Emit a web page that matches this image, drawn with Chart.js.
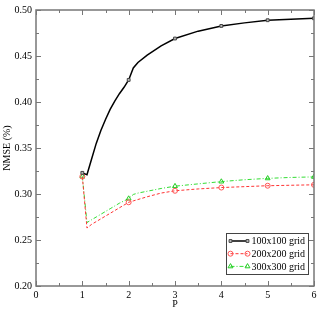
<!DOCTYPE html>
<html><head><meta charset="utf-8">
<script src="https://cdn.jsdelivr.net/npm/chart.js@4"></script>
<style>html,body{margin:0;padding:0;background:#fff;}#c{display:block;}</style>
</head><body>
<canvas id="c" width="320" height="310"></canvas>
<script>
const pValues = [1,1.1,1.2,1.3,1.4,1.5,1.6,1.7,1.8,1.9,2,2.1,2.2,2.4,2.7,3,3.5,4,4.5,5,5.5,6];
const grid100 = [0.323,0.321,0.338,0.355,0.369,0.381,0.392,0.401,0.409,0.416,0.424,0.437,0.443,0.451,0.461,0.469,0.477,0.4827,0.486,0.4889,0.490,0.491];
const grid200 = [0.319,0.263,0.267,0.270,0.273,0.276,0.279,0.282,0.285,0.288,0.291,0.2925,0.294,0.297,0.301,0.3035,0.3055,0.307,0.308,0.309,0.3095,0.310];
const grid300 = [0.319,0.269,0.272,0.275,0.278,0.281,0.284,0.287,0.290,0.2925,0.295,0.2995,0.301,0.303,0.306,0.3085,0.311,0.3135,0.3155,0.317,0.318,0.3186];
const seriesLabels = ['100x100 grid','200x200 grid','300x300 grid'];
const xTicks = [0,1,2,3,4,5,6];
const yTicks = [0.20,0.25,0.30,0.35,0.40,0.45,0.50];

const FONT = "'Liberation Serif','DejaVu Serif',serif";
const toPts = arr => pValues.map((x,i)=>({x:x,y:arr[i]}));
const markerR = r => (c => Number.isInteger(c.raw.x) ? r : 0);
const radii = [2, 2.5, 2.8];

const datasets = [
  {label:seriesLabels[0], data:toPts(grid100), borderColor:'#000', borderWidth:1.5, pointStyle:'rect',
   pointRadius:markerR(radii[0]), pointBackgroundColor:'#bbb', pointBorderColor:'#444', pointBorderWidth:1},
  {label:seriesLabels[1], data:toPts(grid200), borderColor:'#ff3333', borderWidth:1, borderDash:[3,2], pointStyle:'circle',
   pointRadius:markerR(radii[1]), pointBackgroundColor:'rgba(0,0,0,0)', pointBorderColor:'#ff5555', pointBorderWidth:1},
  {label:seriesLabels[2], data:toPts(grid300), borderColor:'#33dd33', borderWidth:1, borderDash:[4,2,1,2], pointStyle:'triangle',
   pointRadius:markerR(radii[2]), pointBackgroundColor:'rgba(0,0,0,0)', pointBorderColor:'#22cc22', pointBorderWidth:1}
];

const framePlugin = {
  id:'frame',
  afterDraw(chart){
    const {ctx, chartArea:a, scales:{x, y}} = chart;
    ctx.save();
    ctx.strokeStyle = '#777';
    ctx.lineWidth = 1.5;
    ctx.strokeRect(a.left, a.top, a.right-a.left, a.bottom-a.top);
    ctx.lineWidth = 1;
    ctx.beginPath();
    for (let v=0; v<=6.0001; v+=0.5){
      const px = Math.round(x.getPixelForValue(v))+0.5;
      const L = Math.abs(v-Math.round(v))<1e-6 ? 5 : 3;
      ctx.moveTo(px, a.bottom); ctx.lineTo(px, a.bottom-L);
      ctx.moveTo(px, a.top); ctx.lineTo(px, a.top+L);
    }
    for (let k=0; k<=12; k++){
      const v = 0.2 + k*0.025;
      const py = Math.round(y.getPixelForValue(v))+0.5;
      const L = k%2===0 ? 5 : 3;
      ctx.moveTo(a.left, py); ctx.lineTo(a.left+L, py);
      ctx.moveTo(a.right, py); ctx.lineTo(a.right-L, py);
    }
    ctx.stroke();

    // legend
    const bw = 82, bh = 41;
    const bx = Math.round(a.right - 6 - bw)+0.5, by = Math.round(a.bottom - 12 - bh)+0.5;
    ctx.fillStyle = '#fff';
    ctx.fillRect(bx, by, bw, bh);
    ctx.strokeStyle = '#444';
    ctx.lineWidth = 1;
    ctx.strokeRect(bx, by, bw, bh);
    chart.data.datasets.forEach((ds, i) => {
      const cy = by + 7.5 + i*12.7;
      const x0 = bx + 4, x1 = bx + 21;
      ctx.save();
      ctx.strokeStyle = ds.borderColor;
      ctx.lineWidth = ds.borderWidth;
      ctx.setLineDash(ds.borderDash || []);
      ctx.beginPath(); ctx.moveTo(x0, cy); ctx.lineTo(x1, cy); ctx.stroke();
      ctx.setLineDash([]);
      const r = radii[i];
      ctx.strokeStyle = ds.pointBorderColor;
      ctx.fillStyle = ds.pointBackgroundColor;
      ctx.lineWidth = 1;
      Chart.helpers.drawPoint(ctx, {pointStyle:ds.pointStyle, radius:r, borderWidth:1, rotation:0}, x0, cy);
      Chart.helpers.drawPoint(ctx, {pointStyle:ds.pointStyle, radius:r, borderWidth:1, rotation:0}, x1, cy);
      ctx.restore();
      ctx.fillStyle = '#000';
      ctx.font = '10px ' + FONT;
      ctx.textBaseline = 'middle';
      ctx.textAlign = 'left';
      ctx.fillText(ds.label, bx + 25, cy + 0.5);
    });
    ctx.restore();
  }
};

new Chart(document.getElementById('c'), {
  type:'line',
  data:{datasets},
  plugins:[framePlugin],
  options:{
    responsive:false, animation:false, devicePixelRatio:1,
    layout:{padding:{top:8, right:6, left:0, bottom:0}},
    plugins:{legend:{display:false}, tooltip:{enabled:false}},
    elements:{line:{tension:0, fill:false}},
    scales:{
      x:{type:'linear', min:0, max:6,
        afterBuildTicks: s => { s.ticks = xTicks.map(v=>({value:v})); },
        afterFit: s => { s.height = 24; },
        grid:{display:false, drawTicks:false},
        border:{display:false},
        ticks:{padding:3, color:'#000', font:{family:FONT, size:10}, callback:v=>String(v), maxRotation:0},
        title:{display:true, text:'P', color:'#000', font:{family:FONT, size:10}, padding:{top:0,bottom:0}}
      },
      y:{type:'linear', min:0.2, max:0.5,
        afterBuildTicks: s => { s.ticks = yTicks.map(v=>({value:v})); },
        afterFit: s => { s.width = 36; },
        grid:{display:false, drawTicks:false},
        border:{display:false},
        ticks:{padding:4, color:'#000', font:{family:FONT, size:10}, callback:v=>Number(v).toFixed(2)},
        title:{display:true, text:'NMSE (%)', color:'#000', font:{family:FONT, size:10}, padding:{top:1,bottom:0}}
      }
    }
  }
});
</script>
</body></html>
